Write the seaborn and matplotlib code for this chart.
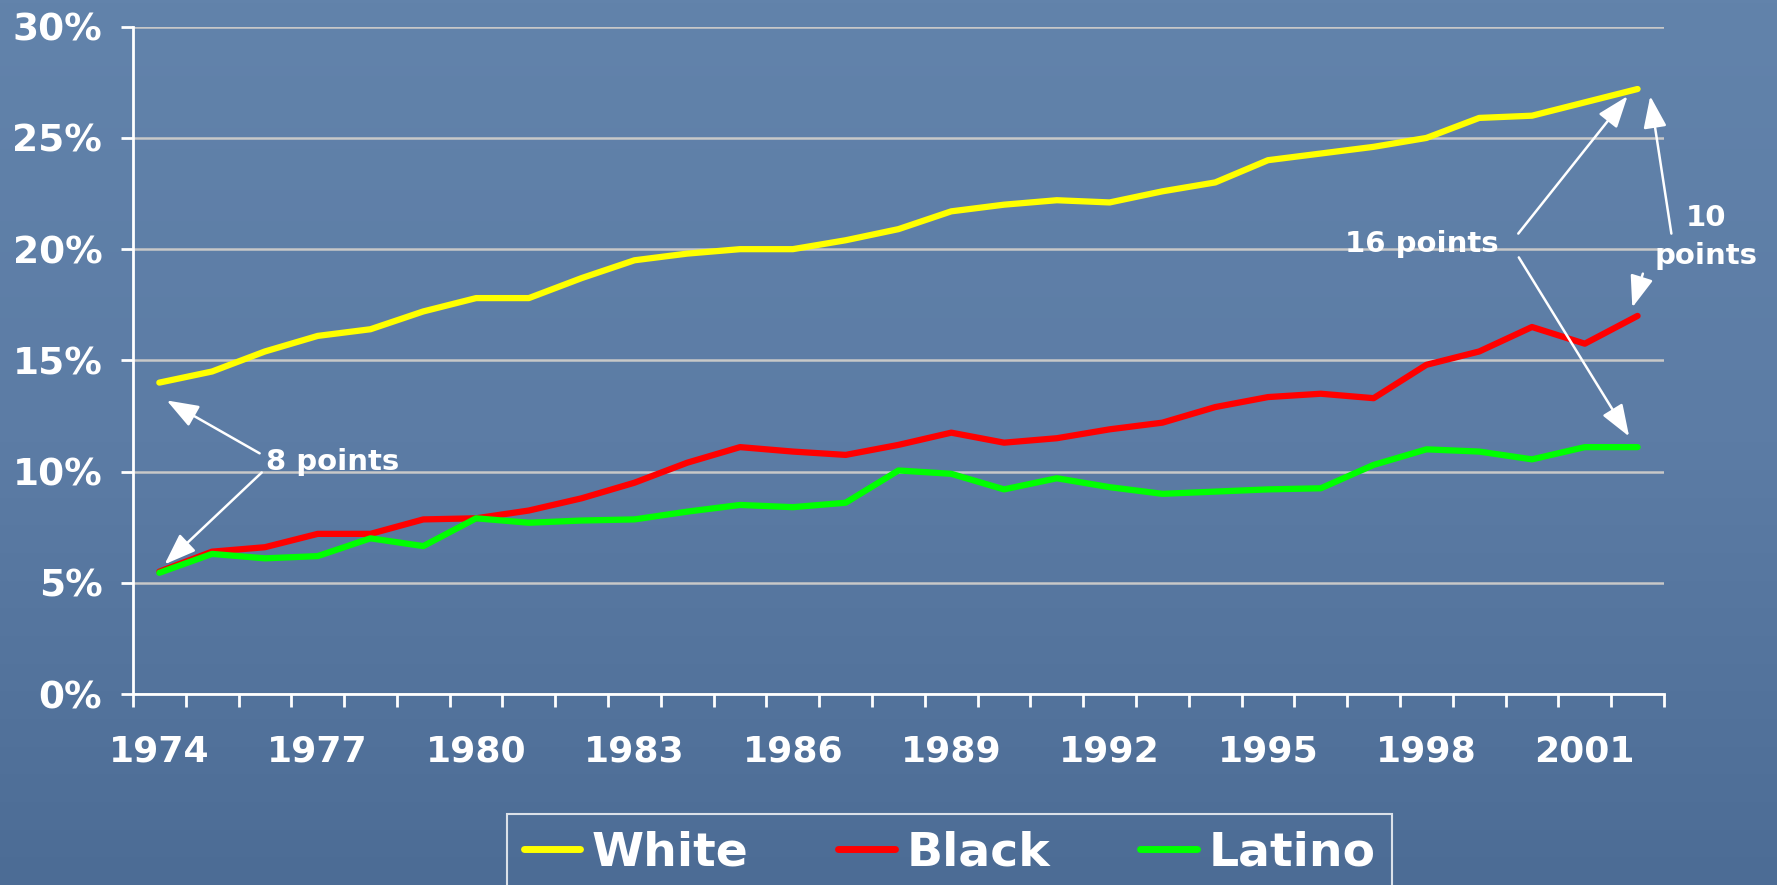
import numpy as np
import pandas as pd
import matplotlib
matplotlib.use('Agg')
import matplotlib.pyplot as plt
import seaborn as sns
from matplotlib.lines import Line2D
from matplotlib.ticker import FuncFormatter
from matplotlib.colors import LinearSegmentedColormap

# values, share in percent, one point per year
years = list(range(1974, 2003))
white = [14.0, 14.5, 15.4, 16.1, 16.4, 17.2, 17.8, 17.8, 18.7, 19.5,
         19.8, 20.0, 20.0, 20.4, 20.9, 21.7, 22.0, 22.2, 22.1, 22.6,
         23.0, 24.0, 24.3, 24.6, 25.0, 25.9, 26.0, 26.6, 27.2]
black = [5.5, 6.4, 6.6, 7.2, 7.2, 7.85, 7.9, 8.25, 8.8, 9.5,
         10.4, 11.1, 10.9, 10.75, 11.2, 11.75, 11.3, 11.5, 11.9, 12.2,
         12.9, 13.35, 13.5, 13.3, 14.8, 15.4, 16.5, 15.75, 17.0]
latino = [5.45, 6.3, 6.1, 6.2, 7.0, 6.65, 7.9, 7.7, 7.8, 7.85,
          8.2, 8.5, 8.4, 8.6, 10.05, 9.9, 9.2, 9.7, 9.3, 9.0,
          9.1, 9.2, 9.25, 10.3, 11.0, 10.9, 10.55, 11.1, 11.1]
groups = ['White', 'Black', 'Latino']
label_years = list(range(1974, 2002, 3))
y_ticks = [0, 5, 10, 15, 20, 25, 30]

palette = {'White': '#ffff00', 'Black': '#ff0000', 'Latino': '#00ff00'}

df = pd.DataFrame({
    'year': years * 3,
    'share': white + black + latino,
    'group': sum([[g] * len(years) for g in groups], []),
})

sns.set_theme(style='white')
plt.rcParams['font.family'] = ['DejaVu Sans']
plt.rcParams['font.weight'] = 'bold'

fig = plt.figure(figsize=(17.77, 8.85), dpi=100)

# plain blue backdrop, a bit darker towards the bottom
bg = fig.add_axes([0, 0, 1, 1], zorder=0)
grad = np.linspace(0, 1, 256).reshape(-1, 1)
bg_cmap = LinearSegmentedColormap.from_list('bg', ['#6283ab', '#5c7ca5', '#4c6c95'])
bg.imshow(grad, aspect='auto', cmap=bg_cmap, extent=[0, 1, 0, 1])
bg.axis('off')

ax = fig.add_axes([0.0748, 0.2158, 0.8616, 0.754], zorder=1)
ax.patch.set_alpha(0)

sns.lineplot(data=df, x='year', y='share', hue='group', palette=palette,
             linewidth=4.5, legend=False, sort=False, ax=ax)
for line in ax.lines:
    line.set_solid_capstyle('round')
    line.set_solid_joinstyle('round')

ax.set_xlim(1973.5, 2002.5)
ax.set_ylim(0, 30)
ax.set_xlabel('')
ax.set_ylabel('')

ax.set_yticks(y_ticks)
ax.yaxis.set_major_formatter(FuncFormatter(lambda v, p: f'{int(v)}%'))
ax.set_xticks(label_years)
ax.set_xticks(np.arange(1973.5, 2003, 1), minor=True)
ax.set_xticklabels([str(y) for y in label_years])

ax.grid(axis='y', color='#c8c8c8', linewidth=1.8)
ax.set_axisbelow(True)
for side in ['top', 'right']:
    ax.spines[side].set_visible(False)
for side in ['left', 'bottom']:
    ax.spines[side].set_color('white')
    ax.spines[side].set_linewidth(2)

ax.tick_params(axis='y', length=9, width=2, color='white', labelcolor='white',
               labelsize=27, pad=13, left=True)
ax.tick_params(axis='x', which='major', length=0, labelcolor='white',
               labelsize=26, pad=29)
ax.tick_params(axis='x', which='minor', length=9, width=2, color='white',
               direction='out', bottom=True)

txt = dict(color='white', fontsize=21, fontweight='bold', ha='center', va='center')
arrow = dict(arrowstyle='-|>,head_length=1.5,head_width=0.55', color='white',
             lw=1.8, shrinkA=0, shrinkB=0, mutation_scale=13)

ax.text(1977.28, 10.41, '8 points', **txt)
ax.annotate('', xy=(1974.14, 13.2), xytext=(1975.90, 10.82), arrowprops=arrow)
ax.annotate('', xy=(1974.10, 5.83), xytext=(1975.94, 9.96), arrowprops=arrow)

ax.text(1997.92, 20.24, '16 points', **txt)
ax.annotate('', xy=(2001.81, 26.88), xytext=(1999.74, 20.7), arrowprops=arrow)
ax.annotate('', xy=(2001.84, 11.58), xytext=(1999.75, 19.63), arrowprops=arrow)

ax.text(2003.29, 20.56, '10\npoints', linespacing=1.45, clip_on=False, **txt)
ax.annotate('', xy=(2002.24, 26.88), xytext=(2002.64, 20.7), arrowprops=arrow,
            annotation_clip=False)
ax.annotate('', xy=(2001.9, 17.38), xytext=(2002.1, 18.9), arrowprops=arrow,
            annotation_clip=False)

handles = [Line2D([0], [0], color=palette[g], lw=5, solid_capstyle='round') for g in groups]
leg = fig.legend(handles, groups, loc='upper left',
                 bbox_to_anchor=(507 / 1777, 1 - 814 / 885), ncol=3,
                 fontsize=34, labelcolor='white', handlelength=1.2,
                 handletextpad=0.25, columnspacing=1.9, borderpad=0.35,
                 borderaxespad=0, frameon=True, fancybox=False,
                 prop={'weight': 'bold', 'size': 34})
frame = leg.get_frame()
frame.set_edgecolor('white')
frame.set_facecolor('none')
frame.set_linewidth(1.5)

fig.savefig('out.png', dpi=100)
